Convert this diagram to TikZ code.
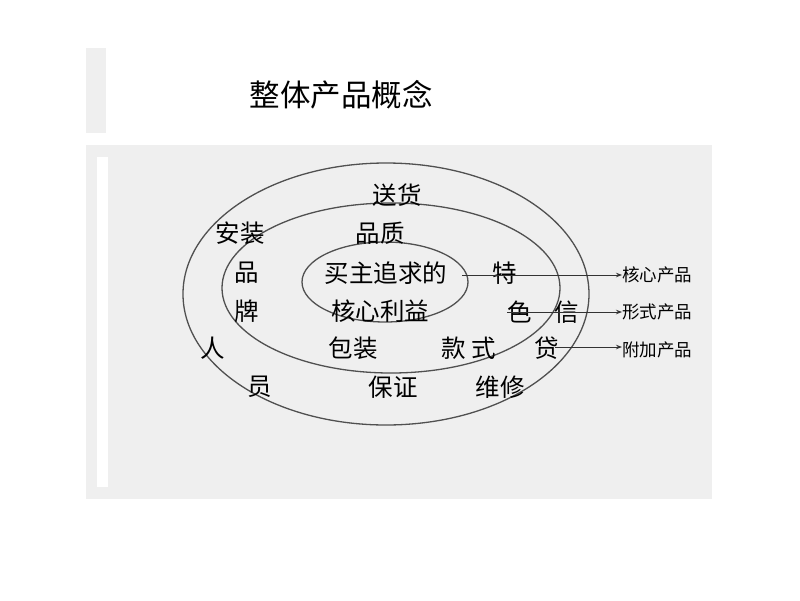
\documentclass[tikz,border=0pt]{standalone}
\usepackage{fontspec}
\newfontfamily\cjk{Noto Sans CJK SC}
\usetikzlibrary{arrows.meta}
\definecolor{panel}{HTML}{EFEFEF}
\definecolor{ring}{HTML}{505050}
\tikzset{
  word/.style={font=\cjk\fontsize{24.5}{24.5}\selectfont, inner sep=0pt, anchor=center},
  tag/.style={font=\cjk\fontsize{17.5}{17.5}\selectfont, inner sep=0pt, anchor=west},
  ringline/.style={draw=ring, line width=1.3pt},
  pointer/.style={draw=black!80, line width=1pt, -{Stealth[length=6pt,width=4.5pt]}}
}
\begin{document}
\begin{tikzpicture}[x=1pt,y=-1pt]
\useasboundingbox (0,0) rectangle (800,600);
\fill[white] (0,0) rectangle (800,600);
% panels
\fill[panel] (86,48) rectangle (106,133);
\fill[panel] (86,145) rectangle (712,499);
\fill[white] (97,157) rectangle (108,487);
% title
\node[font=\cjk\fontsize{30.5}{30.5}\selectfont, inner sep=0pt] (title) at (341,95) {整体产品概念};
% rings
\draw[ringline] (386,294) ellipse [x radius=203, y radius=131];
\draw[ringline] (391,288) ellipse [x radius=169, y radius=85];
\draw[ringline] (385,282) ellipse [x radius=83, y radius=40];
% words
\node[word] (w1) at (397,195) {送货};
\node[word] (w2) at (240,233) {安装};
\node[word] (w3) at (380,233) {品质};
\node[word] (w4) at (247,273) {品};
\node[word] (w5) at (386,273) {买主追求的};
\node[word] (w6) at (505,273) {特};
\node[word] (w7) at (247,311) {牌};
\node[word] (w8) at (380,311) {核心利益};
\node[word] (w9) at (520,312) {色};
\node[word] (w10) at (567,312) {信};
\node[word] (w11) at (213,348) {人};
\node[word] (w12) at (353,348) {包装};
\node[word] (w13) at (469,348) {款\hspace{6pt}式};
\node[word] (w14) at (547,348) {贷};
\node[word] (w15) at (260,387) {员};
\node[word] (w16) at (393,387) {保证};
\node[word] (w17) at (500,387) {维修};
% tags
\node[tag] (t1) at (622,275) {核心产品};
\node[tag] (t2) at (622,312) {形式产品};
\node[tag] (t3) at (622,350) {附加产品};
% pointers
\coordinate (s1) at (462,275);
\coordinate (s2) at (507,312);
\coordinate (s3) at (555,347);
\draw[pointer] (s1) -- (t1.west);
\draw[pointer] (s2) -- (t2.west);
\draw[pointer] (s3) -- (t3.west |- s3);
\end{tikzpicture}
\end{document}
